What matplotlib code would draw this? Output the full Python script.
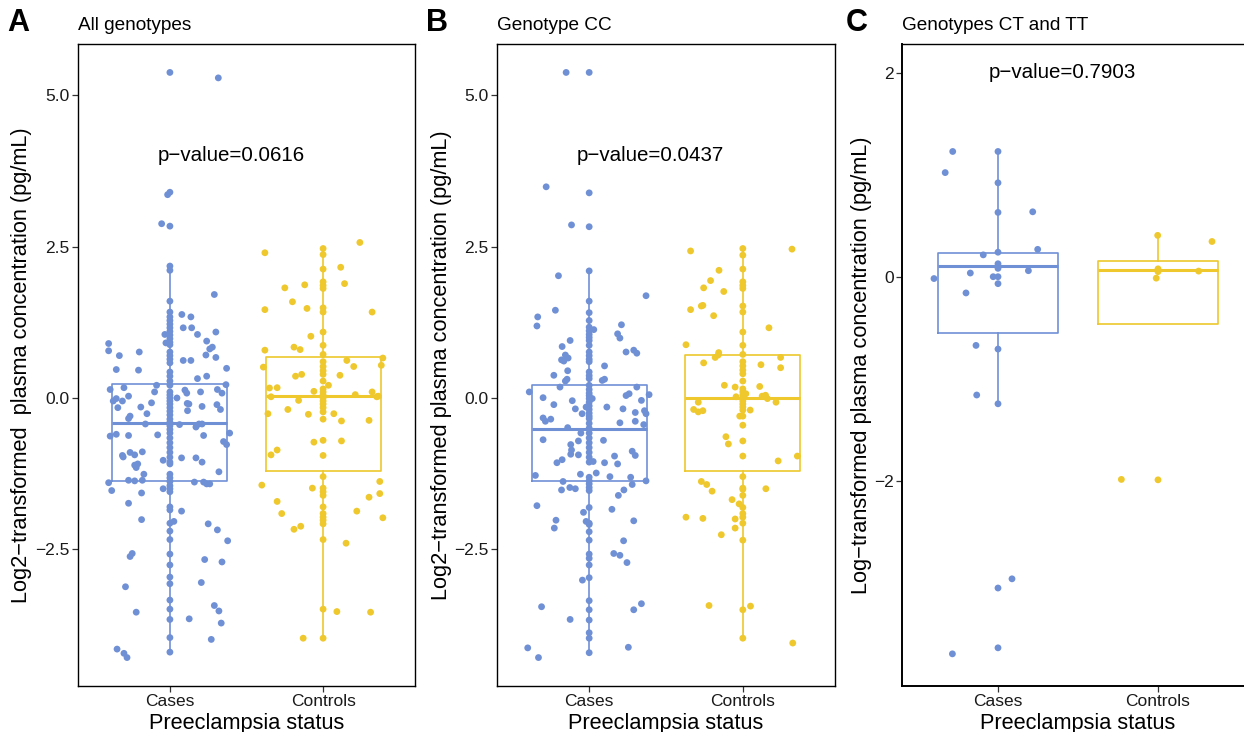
import matplotlib

matplotlib.use("Agg")
import matplotlib.pyplot as plt
from matplotlib.ticker import FuncFormatter

plt.rcParams["font.family"] = ["Liberation Sans", "DejaVu Sans"]

BLUE = "#7090d6"
GOLD = "#eec82c"

groups = ["Cases", "Controls"]

# --- Panel A: all genotypes ---
a_cases_col = [5.38, 3.40, 2.84, 2.18, 2.11, 1.60, 1.42, 1.34, 1.28, 1.22, 1.16, 1.10, 1.04,
               0.98, 0.92, 0.88, 0.76, 0.70, 0.64, 0.58, 0.43, 0.36, 0.28, 0.21, 0.10, 0.05,
               0.0, -0.05, -0.10, -0.16, -0.22, -0.28, -0.35, -0.40, -0.46, -0.52, -0.58,
               -0.66, -0.74, -0.82, -0.90, -0.98, -1.06, -1.09, -1.26, -1.32, -1.38, -1.45,
               -1.50, -1.55, -1.80, -1.85, -2.07, -2.20, -2.34, -2.58, -2.76, -2.96, -3.07,
               -3.34, -3.49, -3.66, -3.96, -4.20]
a_cases_jx = [0.316, -0.015, -0.054, 0.29, 0.078, 0.137, 0.087, 0.142, 0.18, 0.30, -0.033,
              -0.026, 0.24, 0.277, 0.26, -0.40, -0.40, -0.33, -0.20, 0.235, 0.30, 0.087,
              0.137, -0.35, -0.205, 0.37, 0.18, 0.24, -0.087, -0.10, -0.39, -0.30, 0.366,
              0.31, 0.34, 0.098, 0.11, 0.20, -0.37, -0.35, -0.31, -0.27, -0.34, -0.19,
              -0.12, 0.046, 0.113, 0.124, 0.21, 0.307, 0.33, 0.115, -0.15, -0.27, -0.26,
              -0.16, 0.063, 0.17, 0.21, 0.19, -0.39, -0.35, -0.27, -0.08, 0.22, 0.39,
              0.35, 0.37, -0.31, -0.305, -0.26, -0.23, -0.18, 0.076, 0.17, 0.21, -0.044,
              -0.21, -0.23, -0.22, -0.17, 0.32, -0.40, -0.27, -0.23, -0.18, 0.16, 0.22,
              0.24, 0.26, -0.38, -0.185, -0.044, -0.27, 0.076, -0.185, 0.026, 0.25, 0.31,
              0.377, -0.246, -0.26, 0.227, 0.34, -0.29, 0.205, -0.22, 0.29, 0.32, 0.126,
              0.335, 0.27, -0.345, -0.30, -0.28]
a_cases_jy = [5.29, 3.36, 2.88, 1.71, 1.38, 1.34, 1.16, 1.16, 1.05, 1.09, 1.05,
              0.91, 0.94, 0.84, 0.81, 0.90, 0.78, 0.70, 0.76, 0.71, 0.67, 0.62,
              0.62, 0.47, 0.46, 0.49, 0.32, 0.36, 0.21, 0.10, 0.14, 0.17, 0.22,
              0.14, 0.08, 0.13, 0.08, 0.10, -0.05, -0.01, -0.05, 0.03, -0.16, -0.15,
              -0.08, 0.0, -0.09, -0.10, -0.14, -0.11, -0.19, -0.21, -0.26, -0.34, -0.30,
              -0.43, -0.44, -0.48, -0.43, -0.43, -0.63, -0.60, -0.62, -0.61, -0.62, -0.58,
              -0.72, -0.77, -0.95, -0.975, -0.90, -0.94, -0.89, -0.99, -0.99, -1.06, -1.03,
              -1.09, -1.11, -1.15, -1.26, -1.22, -1.40, -1.36, -1.37, -1.36, -1.39, -1.39,
              -1.42, -1.42, -1.53, -1.57, -1.50, -1.74, -1.87, -2.01, -2.04, -2.08, -2.18,
              -2.36, -2.57, -2.62, -2.67, -2.71, -3.12, -3.05, -3.54, -3.43, -3.52, -3.65,
              -3.72, -3.99, -4.15, -4.22, -4.29]
a_ctrl_col = [2.47, 2.37, 2.13, 1.92, 1.86, 1.81, 1.49, 1.42, 1.09, 0.87, 0.72, 0.60, 0.52,
              0.45, 0.39, 0.28, 0.15, 0.10, 0.05, 0.0, -0.05, -0.10, -0.16, -0.23, -0.35,
              -0.70, -0.95, -1.30, -1.49, -1.55, -1.61, -1.80, -1.91, -1.97, -2.02, -2.08,
              -2.34, -3.49, -3.97]
a_ctrl_jx = [-0.38, 0.24, 0.115, -0.25, -0.12, 0.14, -0.20, -0.105, -0.38, 0.32, -0.08,
             -0.19, -0.15, -0.38, -0.39, 0.155, 0.20, 0.39, 0.38, -0.18, -0.14, 0.11,
             -0.35, -0.30, -0.06, 0.035, 0.32, 0.21, -0.34, 0.35, 0.36, -0.16, -0.23,
             -0.096, -0.36, 0.07, 0.12, 0.30, -0.06, 0.12, -0.34, -0.30, -0.40, -0.07,
             0.37, 0.37, 0.30, -0.30, -0.27, 0.22, 0.39, -0.19, -0.146, 0.15, 0.09,
             0.31, -0.13]
a_ctrl_jy = [2.40, 2.57, 2.16, 1.82, 1.87, 1.89, 1.59, 1.48, 1.46, 1.42, 1.02,
             0.84, 0.80, 0.79, 0.51, 0.62, 0.52, 0.66, 0.54, 0.36, 0.39, 0.375,
             0.165, 0.17, 0.11, 0.21, 0.10, 0.055, 0.02, 0.02, 0.03, -0.04, -0.19,
             -0.27, -0.26, -0.26, -0.38, -0.37, -0.73, -0.71, -0.94, -0.86, -1.44, -1.49,
             -1.38, -1.58, -1.64, -1.71, -1.91, -1.87, -1.98, -2.17, -2.12, -2.40, -3.53,
             -3.54, -3.97]

# --- Panel B: genotype CC ---
b_cases_col = [5.38, 3.39, 2.83, 2.10, 1.60, 1.41, 1.28, 1.17, 1.11, 1.05, 1.00, 0.95, 0.87,
               0.76, 0.70, 0.64, 0.60, 0.43, 0.37, 0.32, 0.21, 0.14, 0.08, 0.04, -0.01,
               -0.07, -0.13, -0.19, -0.25, -0.30, -0.34, -0.42, -0.50, -0.58, -0.66, -0.74,
               -0.82, -0.90, -0.98, -1.06, -1.31, -1.37, -1.42, -1.48, -1.53, -1.81, -2.07,
               -2.09, -2.21, -2.35, -2.58, -2.65, -2.76, -2.97, -3.35, -3.50, -3.67, -3.88,
               -3.97, -4.21]
b_cases_jx = [-0.15, -0.28, -0.115, -0.20, 0.37, -0.22, -0.335, -0.34, 0.21, 0.185, 0.20,
              0.03, -0.124, -0.176, 0.24, 0.29, 0.31, -0.155, -0.137, -0.18, -0.165, 0.10,
              -0.14, -0.23, -0.144, -0.155, 0.085, 0.10, -0.19, -0.39, 0.31, 0.24, 0.26,
              0.39, -0.30, -0.11, 0.34, -0.23, -0.09, -0.02, 0.02, 0.115, 0.22, 0.30,
              0.36, 0.37, -0.046, -0.30, -0.285, -0.25, 0.30, 0.20, 0.355, -0.14, -0.054,
              -0.30, -0.07, 0.093, -0.12, -0.115, -0.12, -0.07, 0.165, 0.28, 0.30, -0.176,
              -0.21, 0.026, 0.10, 0.185, -0.35, -0.057, 0.046, 0.135, 0.27, 0.37, 0.28,
              -0.17, -0.18, -0.126, -0.09, 0.226, 0.19, -0.34, -0.037, 0.148, -0.216,
              -0.227, -0.02, 0.29, 0.224, 0.16, 0.20, 0.246, -0.044, -0.31, -0.124, 0.29,
              0.34, -0.40, -0.33, 0.255]
b_cases_jy = [5.38, 3.49, 2.86, 2.02, 1.69, 1.45, 1.34, 1.19, 1.21, 1.06, 0.99,
              1.13, 0.95, 0.85, 0.76, 0.79, 0.74, 0.71, 0.66, 0.63, 0.61, 0.53,
              0.45, 0.375, 0.31, 0.28, 0.29, 0.31, 0.18, 0.10, 0.18, 0.04, 0.07,
              0.055, 0.005, -0.045, -0.04, -0.11, -0.18, -0.15, -0.01, -0.15, -0.18, -0.24,
              -0.21, -0.26, -0.26, -0.33, -0.385, -0.35, -0.385, -0.41, -0.44, -0.49, -0.58,
              -0.69, -0.71, -0.70, -0.77, -0.86, -0.93, -0.94, -0.96, -0.88, -0.95, -1.02,
              -1.07, -1.05, -1.07, -1.09, -1.28, -1.26, -1.24, -1.30, -1.31, -1.37, -1.43,
              -1.38, -1.52, -1.48, -1.50, -1.52, -1.61, -1.78, -1.89, -1.84, -2.02,
              -2.15, -2.04, -2.03, -2.36, -2.57, -2.60, -2.72, -3.01, -3.45, -3.66, -3.50,
              -3.40, -4.13, -4.29, -4.12]
b_ctrl_col = [2.47, 2.36, 2.13, 1.92, 1.86, 1.81, 1.52, 1.42, 1.09, 0.87, 0.72, 0.60, 0.53,
              0.46, 0.40, 0.28, 0.15, 0.10, 0.05, 0.0, -0.05, -0.10, -0.15, -0.20, -0.30,
              -0.45, -0.71, -0.96, -1.30, -1.49, -1.51, -1.61, -1.81, -1.91, -1.97, -2.07,
              -2.35, -3.50, -3.97]
b_ctrl_jx = [-0.34, 0.32, -0.155, -0.21, -0.255, -0.124, -0.34, -0.27, -0.26, -0.19, 0.17,
             -0.37, -0.157, -0.16, -0.18, -0.255, 0.118, 0.246, 0.246, -0.12, -0.05, 0.11,
             0.02, -0.044, 0.126, 0.148, 0.16, 0.216, -0.29, -0.32, -0.29, -0.26, 0.048,
             -0.02, -0.11, -0.094, 0.23, 0.355, -0.27, -0.235, -0.20, 0.15, -0.07, -0.024,
             -0.37, -0.26, -0.05, -0.05, -0.14, -0.22, 0.05, 0.325]
b_ctrl_jy = [2.43, 2.46, 2.11, 1.94, 1.82, 1.76, 1.46, 1.52, 1.53, 1.36, 1.16,
             0.88, 0.75, 0.71, 0.67, 0.58, 0.55, 0.67, 0.50, 0.21, 0.18, 0.19,
             0.07, 0.02, 0.03, 0.045, -0.01, -0.07, -0.07, -0.19, -0.23, -0.21, -0.20,
             -0.30, -0.64, -0.76, -1.04, -0.96, -1.38, -1.43, -1.54, -1.50, -1.68, -1.75,
             -1.97, -1.99, -2.0, -2.15, -2.26, -3.43, -3.44, -4.05]

# --- Panel C: genotypes CT and TT ---
c_cases_x = [-0.283, -0.33, 0, 0, 0, 0.217, 0.248, -0.092, 0, 0, 0, -0.173, 0.19, -0.40,
             -0.03, 0, 0, -0.20, -0.1375, 0, -0.133, 0, 0.0875, 0, 0, -0.285]
c_cases_y = [1.227, 1.02, 1.227, 0.92, 0.63, 0.636, 0.268, 0.214, 0.24, 0.127, 0.082,
             0.036, 0.059, -0.018, 0.0, 0.0, -0.068, -0.159, -0.673, -0.709, -1.159,
             -1.245, -2.96, -3.05, -3.636, -3.695]
c_ctrl_x = [-0.002, 0.3375, 0, 0, -0.011, 0.254, -0.229, 0]
c_ctrl_y = [0.405, 0.345, 0.077, 0.05, -0.014, 0.055, -1.986, -1.99]

# Box statistics: q1, median, q3, lower whisker, upper whisker
a_box = [(-1.37, -0.42, 0.23, -4.20, 2.18), (-1.21, 0.03, 0.68, -3.97, 2.47)]
b_box = [(-1.38, -0.51, 0.22, -4.21, 2.10), (-1.21, 0.0, 0.71, -3.97, 2.47)]
c_box = [(-0.55, 0.105, 0.236, -1.245, 1.227), (-0.459, 0.064, 0.155, -0.459, 0.405)]

pvals = ["p\u2212value=0.0616", "p\u2212value=0.0437", "p\u2212value=0.7903"]
pval_y = [4.0, 4.0, 2.0]
titles = ["All genotypes", "Genotype CC", "Genotypes CT and TT"]
letters = ["A", "B", "C"]
ylabels = ["Log2\u2212transformed  plasma concentration (pg/mL)",
           "Log2\u2212transformed plasma concentration (pg/mL)",
           "Log\u2212transformed plasma concentration (pg/mL)"]

W, H = 1244, 732
fig = plt.figure(figsize=(W / 100, H / 100), dpi=100)

# axes boxes in pixels: left, right, top, bottom; then label offsets from the left edge
rects = [(78, 415, 44, 686), (497, 835, 44, 686), (902, 1254, 44, 686)]
ylab_off = [56, 56, 41]
letter_off = [60, 60, 45]
ylims = [(-4.76, 5.85), (-4.76, 5.85), (-4.01, 2.28)]
yticks = [[-2.5, 0.0, 2.5, 5.0], [-2.5, 0.0, 2.5, 5.0], [-2, 0, 2]]
yfmt = ["{:.1f}", "{:.1f}", "{:.0f}"]

panel_points = [
    [(a_cases_jx + [0.0] * len(a_cases_col), a_cases_jy + a_cases_col),
     (a_ctrl_jx + [0.0] * len(a_ctrl_col), a_ctrl_jy + a_ctrl_col)],
    [(b_cases_jx + [0.0] * len(b_cases_col), b_cases_jy + b_cases_col),
     (b_ctrl_jx + [0.0] * len(b_ctrl_col), b_ctrl_jy + b_ctrl_col)],
    [(c_cases_x, c_cases_y), (c_ctrl_x, c_ctrl_y)],
]
boxes = [a_box, b_box, c_box]

for i, (l, r, t, b) in enumerate(rects):
    ax = fig.add_axes([l / W, (H - b) / H, (r - l) / W, (b - t) / H])
    ax.set_xlim(0.4, 2.6)
    ax.set_ylim(*ylims[i])

    for g, color in enumerate([BLUE, GOLD]):
        q1, med, q3, lo, hi = boxes[i][g]
        stats = [{"q1": q1, "med": med, "q3": q3, "whislo": lo, "whishi": hi, "fliers": []}]
        ax.bxp(stats, positions=[g + 1], widths=0.75, showcaps=False, showfliers=False,
               boxprops=dict(color=color, lw=1.2),
               whiskerprops=dict(color=color, lw=1.2),
               medianprops=dict(color=color, lw=2.2),
               manage_ticks=False, zorder=2)
        xs, ys = panel_points[i][g]
        ax.scatter([g + 1 + x for x in xs], ys, s=24, color=color, edgecolors="none", zorder=3)

    ax.text(1.4, pval_y[i], pvals[i], ha="center", va="center", fontsize=14.8)

    ax.set_xticks([1, 2])
    ax.set_xticklabels(groups, fontsize=12.5, color="#1a1a1a")
    ax.set_yticks(yticks[i])
    fmt = yfmt[i]
    ax.yaxis.set_major_formatter(FuncFormatter(lambda v, p, f=fmt: f.format(v).replace("-", "\u2212")))
    ax.tick_params(labelsize=12.5, labelcolor="#1a1a1a", length=4, width=0.9,
                   color="#333333", pad=2)
    for sp in ax.spines.values():
        sp.set_linewidth(1.0)
    if i == 2:
        ax.spines["left"].set_linewidth(1.4)
        ax.spines["bottom"].set_linewidth(1.4)

    cx = (l + r) / 2
    fig.text(cx / W, 1 - 723 / H, "Preeclampsia status", ha="center", va="center", fontsize=15.7)
    fig.text((l - ylab_off[i]) / W, 1 - 365 / H, ylabels[i], rotation=90, ha="center",
             va="center", fontsize=15.7)
    fig.text(l / W, 1 - 25 / H, titles[i], ha="left", va="center", fontsize=13.7)
    fig.text((l - letter_off[i]) / W, 1 - 23 / H, letters[i], ha="center", va="center",
             fontsize=22, fontweight="bold")

fig.savefig("out.png", dpi=100)
